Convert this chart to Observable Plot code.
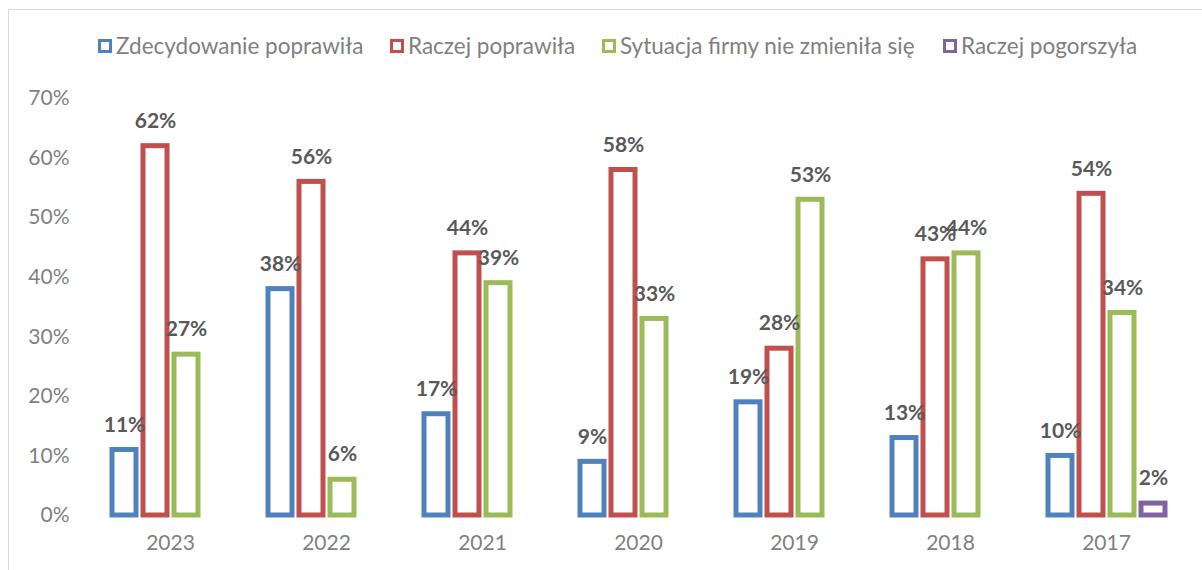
<!DOCTYPE html>
<html><head><meta charset="utf-8">
<script src="https://cdn.jsdelivr.net/npm/d3@7"></script>
<script src="https://cdn.jsdelivr.net/npm/@observablehq/plot@0.6"></script>
<style>
body{margin:0;background:#fff;font-family:Lato,"Open Sans",sans-serif;}
#wrap{position:relative;width:1202px;height:570px;overflow:hidden;background:#fff;}
#frame{position:absolute;left:8px;top:9px;width:1300px;height:700px;border-left:1px solid #d9d9d9;border-top:1px solid #d9d9d9;pointer-events:none;}
#legend{position:relative;height:70px;}
.item{position:absolute;top:33px;display:flex;align-items:center;font-size:22.5px;color:#7f7f7f;line-height:26px;white-space:nowrap;}
.sw{width:8px;height:8px;border:3px solid;background:#fff;margin-right:4px;}
#chart svg{display:block;}
</style></head>
<body>
<div id="wrap">
  <div id="legend"></div>
  <div id="chart"></div>
  <div id="frame"></div>
</div>
<script>
const years = ["2023","2022","2021","2020","2019","2018","2017"];
const seriesNames = ["Zdecydowanie poprawiła","Raczej poprawiła","Sytuacja firmy nie zmieniła się","Raczej pogorszyła"];
const seriesColors = ["#4F81BD","#C0504D","#9BBB59","#8064A2"];
const zdecydowaniePoprawila = [11,38,17,9,19,13,10];
const raczejPoprawila = [62,56,44,58,28,43,54];
const bezZmian = [27,6,39,33,53,44,34];
const raczejPogorszyla = [null,null,null,null,null,null,2];
const yTicks = [0,10,20,30,40,50,60,70];
const legendLeft = [98,390,602,943];

const seriesValues = [zdecydowaniePoprawila, raczejPoprawila, bezZmian, raczejPogorszyla];
const data = [];
years.forEach((yr,i)=>{
  seriesValues.forEach((arr,j)=>{
    if(arr[i]!=null) data.push({year:yr, series:seriesNames[j], value:arr[i]});
  });
});

const legend = document.getElementById("legend");
seriesNames.forEach((n,i)=>{
  const it = document.createElement("div");
  it.className="item"; it.style.left=legendLeft[i]+"px";
  const sw = document.createElement("span"); sw.className="sw"; sw.style.borderColor=seriesColors[i];
  const t = document.createElement("span"); t.textContent=n;
  it.appendChild(sw); it.appendChild(t); legend.appendChild(it);
});

const chart = Plot.plot({
  width:1202, height:500,
  marginTop:28, marginBottom:55, marginLeft:90, marginRight:16,
  style:{fontFamily:"Lato, 'Open Sans', sans-serif", fontSize:"21px", color:"#7f7f7f", background:"#fff", overflow:"visible"},
  fx:{domain:years, padding:0, label:null},
  x:{domain:seriesNames, paddingInner:0.24, paddingOuter:0.585, axis:null},
  y:{domain:[0,70], label:null},
  color:{domain:seriesNames, range:seriesColors},
  marks:[
    Plot.axisY({ticks:yTicks, tickFormat:d=>d+"%", tickSize:0, tickPadding:23, label:null, fontSize:21}),
    Plot.axisFx({anchor:"bottom", tickSize:0, tickPadding:20, label:null, fontSize:21}),
    Plot.barY(data,{fx:"year", x:"series", y:"value", stroke:"series", fill:"white", strokeWidth:5}),
    Plot.text(data,{fx:"year", x:"series", y:"value", text:d=>d.value+"%", dy:-25, fill:"#595959", fontWeight:"bold", fontSize:21})
  ]
});
document.getElementById("chart").appendChild(chart);
</script>
</body></html>
